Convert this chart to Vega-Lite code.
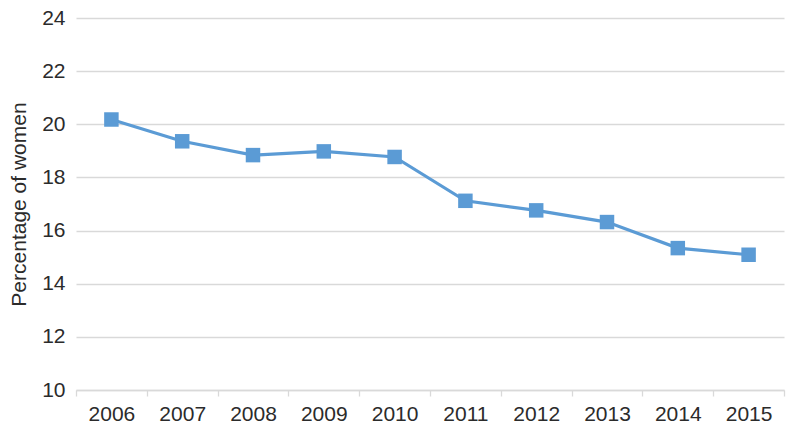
{
  "$schema": "https://vega.github.io/schema/vega-lite/v6.json",
  "width": 708,
  "height": 372,
  "autosize": {"type": "none"},
  "padding": {"left": 76, "top": 18, "right": 16, "bottom": 45},
  "background": "white",
  "config": {
    "view": {"stroke": null},
    "font": "Liberation Sans"
  },
  "data": {
    "values": [
      {"year": "2006", "pct": 20.18},
      {"year": "2007", "pct": 19.36},
      {"year": "2008", "pct": 18.84},
      {"year": "2009", "pct": 18.98},
      {"year": "2010", "pct": 18.77},
      {"year": "2011", "pct": 17.12},
      {"year": "2012", "pct": 16.76},
      {"year": "2013", "pct": 16.32},
      {"year": "2014", "pct": 15.34},
      {"year": "2015", "pct": 15.09}
    ]
  },
  "encoding": {
    "x": {
      "field": "year",
      "type": "ordinal",
      "bandPosition": 0.5,
      "scale": {"type": "band", "paddingInner": 0, "paddingOuter": 0},
      "axis": {
        "title": null,
        "labelAngle": 0,
        "labelFontSize": 21,
        "labelColor": "#2b2b2b",
        "labelPadding": 7,
        "domainColor": "#D9D9D9",
        "domainWidth": 1.3,
        "tickColor": "#D9D9D9",
        "tickWidth": 1.3,
        "tickSize": 6,
        "tickBand": "extent",
        "grid": false
      }
    },
    "y": {
      "field": "pct",
      "type": "quantitative",
      "scale": {"domain": [10, 24], "nice": false, "zero": false},
      "axis": {
        "title": "Percentage of women",
        "titleFontSize": 21,
        "titleFontWeight": "normal",
        "titleColor": "#2b2b2b",
        "titlePadding": 12,
        "values": [10, 12, 14, 16, 18, 20, 22, 24],
        "labelFontSize": 21,
        "labelColor": "#2b2b2b",
        "labelPadding": 11,
        "domain": false,
        "ticks": false,
        "grid": true,
        "gridColor": "#D9D9D9",
        "gridWidth": 1.3
      }
    }
  },
  "layer": [
    {"mark": {"type": "line", "color": "#5B9BD5", "strokeWidth": 3.2}},
    {"mark": {"type": "point", "shape": "square", "filled": true, "opacity": 1, "size": 210, "color": "#5B9BD5"}}
  ]
}
